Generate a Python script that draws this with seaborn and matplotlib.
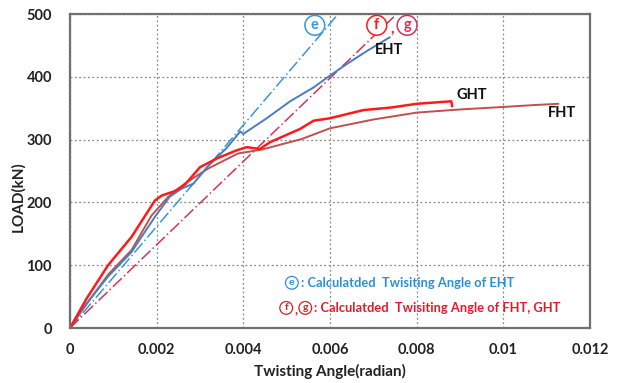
import numpy as np
import pandas as pd
import matplotlib
matplotlib.use("Agg")
import matplotlib.pyplot as plt
import seaborn as sns

# ---- data ----
eht_x = [0, 0.0003, 0.00088, 0.00142, 0.00196, 0.0023, 0.00258, 0.00285, 0.00316, 0.00362,
         0.00393, 0.004, 0.00415, 0.00454, 0.00508, 0.00562, 0.006, 0.00638, 0.00685, 0.00738]
eht_y = [0, 32, 82, 121, 177, 209, 222, 230, 256, 287,
         313, 309, 316, 334, 361, 383, 402, 420, 441, 463]

fht_x = [0, 0.0003, 0.00088, 0.00142, 0.00188, 0.00227, 0.00265, 0.00319, 0.00388, 0.00442,
         0.00535, 0.006, 0.007, 0.008, 0.009, 0.010, 0.0107, 0.01127]
fht_y = [0, 30, 85, 124, 179, 209, 230, 254, 278, 284,
         301, 318, 332, 343, 348, 352, 355, 357]

ght_x = [0, 0.000385, 0.00088, 0.00142, 0.00196, 0.00212, 0.00242, 0.00265, 0.003, 0.00339,
         0.00385, 0.00408, 0.00438, 0.00462, 0.00531, 0.00562, 0.006, 0.00677, 0.0074, 0.008,
         0.0088, 0.00882]
ght_y = [0, 47, 100, 145, 203, 211, 218, 228, 256, 270,
         283, 288, 285, 296, 317, 330, 334, 347, 351, 357,
         361, 353]

calc_e_x = [0, 0.00619]
calc_e_y = [0, 500]
calc_fg_x = [0, 0.00754]
calc_fg_y = [0, 500]

x_ticks = [0, 0.002, 0.004, 0.006, 0.008, 0.010, 0.012]
x_tick_labels = ["0", "0.002", "0.004", "0.006", "0.008", "0.01", "0.012"]
y_ticks = [0, 100, 200, 300, 400, 500]

sns.set_theme(style="white")
plt.rcParams['font.family'] = ['Lato', 'DejaVu Sans']

fig = plt.figure(figsize=(6.22, 3.83), dpi=100)
ax = fig.add_axes([0.1125, 0.1436, 0.836, 0.8198])

c_blue = "#4a7cc0"
c_blue_dash = "#3a96d4"
c_red = "#ff1a1a"
c_brown = "#c0504d"
c_red_dash = "#d2335a"
c_txt_blue = "#2e8fd8"
c_txt_red = "#e01c2c"

dd = (0, (8, 2, 1, 2))
sns.lineplot(x=calc_e_x, y=calc_e_y, ax=ax, color=c_blue_dash, lw=1.1, linestyle=dd, sort=False)
sns.lineplot(x=calc_fg_x, y=calc_fg_y, ax=ax, color=c_red_dash, lw=1.1, linestyle=dd, sort=False)
sns.lineplot(x=fht_x, y=fht_y, ax=ax, color=c_brown, lw=1.4, sort=False)
sns.lineplot(x=eht_x, y=eht_y, ax=ax, color=c_blue, lw=1.4, sort=False)
sns.lineplot(x=ght_x, y=ght_y, ax=ax, color=c_red, lw=1.8, sort=False)

ax.set_xlim(0, 0.012)
ax.set_ylim(0, 500)
ax.set_xticks(x_ticks)
ax.set_xticklabels(x_tick_labels)
ax.set_yticks(y_ticks)
for lab in ax.get_xticklabels() + ax.get_yticklabels():
    lab.set_fontweight('bold')
    lab.set_fontsize(10.5)
    lab.set_color('#222222')
ax.tick_params(axis='x', pad=11, length=0)
ax.tick_params(axis='y', pad=13, length=0)
ax.grid(True, linestyle=(0, (1.5, 2)), color='#888888', lw=0.9)
for s in ax.spines.values():
    s.set_color('#707070')
    s.set_linewidth(1.6)

ax.set_xlabel("Twisting Angle(radian)", fontweight='bold', fontsize=11, color='#222222', labelpad=5)
ax.set_ylabel("LOAD(kN)", fontweight='bold', fontsize=11, color='#222222', labelpad=8)
ax.yaxis.set_label_coords(-0.085, 0.42)

ax.text(0.00736, 443, "EHT", fontweight='bold', fontsize=10.5, ha='center', va='center', color='#111111')
ax.text(0.00928, 371, "GHT", fontweight='bold', fontsize=10.5, ha='center', va='center', color='#111111')
ax.text(0.01136, 342, "FHT", fontweight='bold', fontsize=10.5, ha='center', va='center', color='#111111')

# circled markers at the top of the calculated lines
circ = dict(boxstyle='circle,pad=0.2', fc='white', lw=1.1)
ax.text(0.00565, 482, "e", fontweight='bold', fontsize=10.5, ha='center', va='center', color=c_blue_dash,
        bbox=dict(circ, ec=c_blue_dash))
ax.text(0.00708, 482, "f", fontweight='bold', fontsize=10.5, ha='center', va='center', color=c_red,
        bbox=dict(circ, ec=c_red))
ax.text(0.00743, 477, ",", fontweight='bold', fontsize=11, ha='center', va='center', color=c_red)
ax.text(0.00778, 482, "g", fontweight='bold', fontsize=10.5, ha='center', va='center', color=c_red_dash,
        bbox=dict(circ, ec=c_red_dash))

# explanation text
small = dict(boxstyle='circle,pad=0.18', fc='white', lw=0.9)
ax.text(0.00512, 72, "e", fontweight='bold', fontsize=7.5, ha='center', va='center', color=c_txt_blue,
        bbox=dict(small, ec=c_txt_blue))
ax.text(0.00533, 72, ": Calculatded  Twisiting Angle of EHT", fontweight='bold',
        fontsize=9.3, ha='left', va='center', color=c_txt_blue)
ax.text(0.00499, 32, "f", fontweight='bold', fontsize=7.5, ha='center', va='center', color=c_txt_red,
        bbox=dict(small, ec=c_txt_red))
ax.text(0.00521, 29, ",", fontweight='bold', fontsize=9.3, ha='center', va='center', color=c_txt_red)
ax.text(0.00543, 32, "g", fontweight='bold', fontsize=7.5, ha='center', va='center', color=c_txt_red,
        bbox=dict(small, ec=c_txt_red))
ax.text(0.00564, 32, ": Calculatded  Twisiting Angle of FHT, GHT", fontweight='bold',
        fontsize=9.3, ha='left', va='center', color=c_txt_red)

fig.savefig("out.png", dpi=100)
